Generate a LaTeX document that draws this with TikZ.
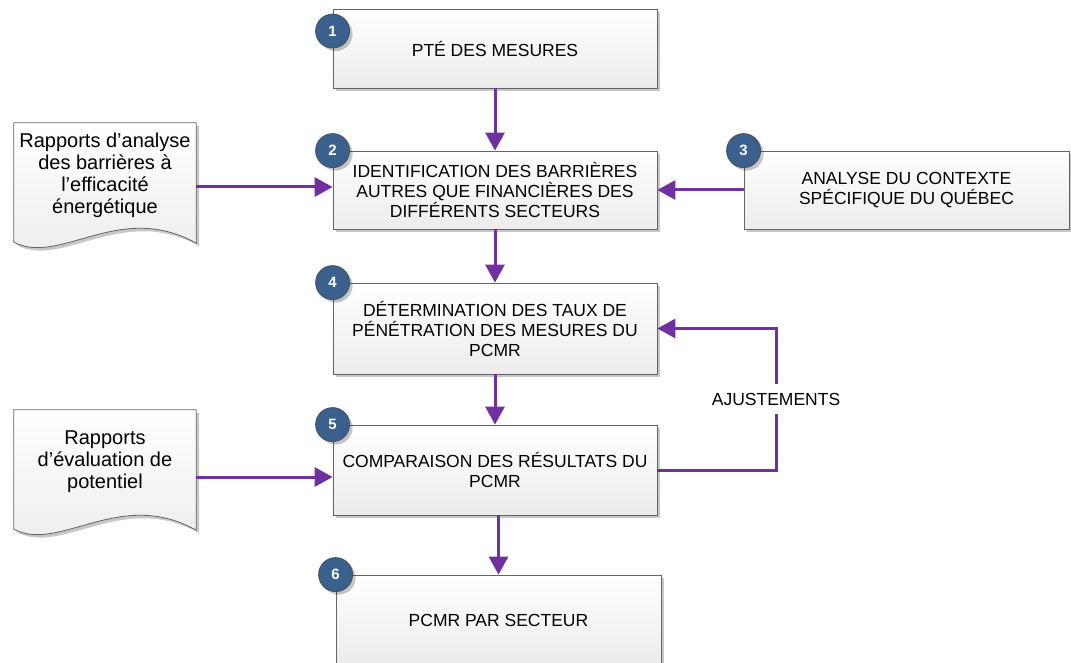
\documentclass[tikz,border=0pt]{standalone}
\usepackage{fontspec}
\setmainfont{Liberation Sans}
\usepackage{tikz}
\usetikzlibrary{arrows.meta, calc, shadows, backgrounds}
\usepackage{xcolor}
\definecolor{flowpurple}{RGB}{112,48,160}
\definecolor{diskblue}{RGB}{58,96,142}
\definecolor{diskedge}{RGB}{70,80,95}
\definecolor{boxgray}{RGB}{100,100,100}
\definecolor{boxfill}{RGB}{236,236,236}
\newcommand{\docoutline}[1]{%
  \begin{scope}[on background layer]
  \draw[docline] (#1.north west) -- (#1.north east) -- ($(#1.south east)+(0,16)$)
    .. controls ($(#1.south west)+(106,-27)$) and ($(#1.south west)+(46,39)$)
    .. ($(#1.south west)+(0,15)$) -- cycle;
  \end{scope}}

\begin{document}
\begin{tikzpicture}[
  x=1pt, y=-1pt,
  softshadow/.style={drop shadow={opacity=0.22, shadow xshift=3pt, shadow yshift=-3pt, fill=black}},
  stepbox/.style={draw=boxgray, line width=0.8pt, top color=white, bottom color=boxfill, minimum width=324pt, minimum height=79pt, inner sep=0pt, align=center, font=\fontsize{17.5}{20}\selectfont, softshadow},
  numdisk/.style={circle, draw=diskedge, line width=0.8pt, fill=diskblue, minimum size=34pt, inner sep=0pt, text=white, font=\fontsize{15}{15}\selectfont\bfseries, softshadow},
  docbox/.style={minimum width=182pt, minimum height=104pt, inner sep=0pt, align=center, font=\fontsize{20}{22}\selectfont},
  docline/.style={draw=boxgray, line width=0.8pt, top color=white, bottom color=boxfill, softshadow},
  flow/.style={draw=flowpurple, line width=3pt, -{Triangle[width=19pt,length=18pt]}},
  adjlbl/.style={fill=white, inner xsep=2pt, inner ysep=9pt, font=\fontsize{17.5}{20}\selectfont}
]
\useasboundingbox (0,0) rectangle (1071,663);

\node[stepbox] (b1) at (495,48.5) {PTÉ DES MESURES};
\node[stepbox, minimum height=78pt] (b2) at (495,190) {IDENTIFICATION DES BARRIÈRES\\AUTRES QUE FINANCIÈRES DES\\DIFFÉRENTS SECTEURS};
\node[stepbox, minimum width=325pt, minimum height=78pt] (b3) at (906.5,190) {ANALYSE DU CONTEXTE\\SPÉCIFIQUE DU QUÉBEC};
\node[stepbox, minimum height=91pt] (b4) at (495,328.5) {DÉTERMINATION DES TAUX DE\\PÉNÉTRATION DES MESURES DU\\PCMR};
\node[stepbox, minimum height=90pt] (b5) at (495,470) {COMPARAISON DES RÉSULTATS DU\\PCMR};
\node[stepbox, minimum width=325pt, minimum height=90pt] (b6) at (498.5,620) {PCMR PAR SECTEUR};

\node[docbox] (doc1) at (105,175) {Rapports d’analyse\\des barrières à\\l’efficacité\\énergétique};
\node[docbox] (doc2) at (105,462) {Rapports\\d’évaluation de\\potentiel};
\docoutline{doc1}
\docoutline{doc2}

\node[numdisk] (d1) at ($(b1.north west)+(0,22.5)$) {1};
\foreach \n in {2,...,6}
  \node[numdisk] (d\n) at (b\n.north west) {\n};

\coordinate (in2) at ($(b2.west)+(0,-3)$);
\coordinate (in5) at ($(b5.west)+(0,7)$);
\coordinate (turn) at (776,399);

\draw[flow] (b1) -- (b2);
\draw[flow] (doc1.east |- in2) -- (in2);
\draw[flow] (b3) -- (b2);
\draw[flow] (b2) -- (b4);
\draw[flow] (b4) -- (b5);
\draw[flow] (doc2.east |- in5) -- (in5);
\draw[flow] (b5.south -| b6.north) -- (b6.north);
\draw[flow] (b5.east) -| (turn) |- (b4.east);
\node[adjlbl] (adj) at (turn) {AJUSTEMENTS};
\end{tikzpicture}
\end{document}
